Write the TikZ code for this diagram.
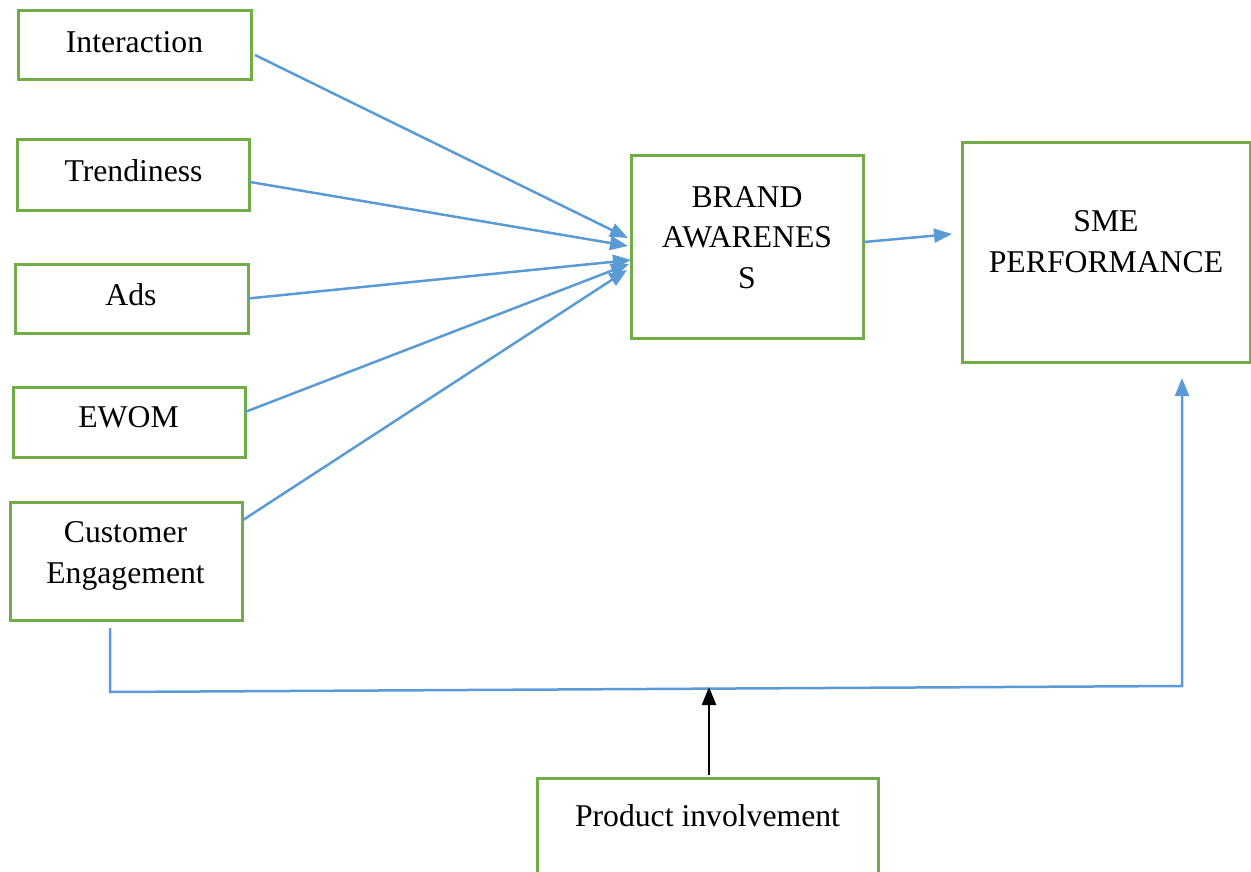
\documentclass[tikz,border=0pt]{standalone}
\usepackage{fontspec}
\setmainfont{Liberation Serif}
\usetikzlibrary{arrows.meta}
\definecolor{boxgreen}{HTML}{70AD47}
\definecolor{lineblue}{HTML}{5B9BD5}
\begin{document}
\begin{tikzpicture}[x=1pt,y=-1pt,
  box/.style={draw=boxgreen,line width=3pt,rectangle,inner sep=0pt,outer sep=0pt},
  lbl/.style={anchor=base,align=center,inner sep=0pt,font=\fontsize{31.7}{40.5}\selectfont},
  blueline/.style={draw=lineblue,line width=2.5pt},
  bluearrow/.style={blueline,-{Triangle[length=18pt,width=14pt]}},
  blackarrow/.style={draw=black,line width=2.5pt,-{Triangle[length=18pt,width=14pt]}}]
\useasboundingbox (0,0) rectangle (1251,872);
\clip (0,0) rectangle (1251,872);
% boxes
\node[box,minimum width=233pt,minimum height=69pt] (int) at (134.5,45.5) {};
\node[box,minimum width=232pt,minimum height=70pt] (trd) at (133,175) {};
\node[box,minimum width=233pt,minimum height=69pt] (ads) at (131.5,298.5) {};
\node[box,minimum width=232pt,minimum height=70pt] (ewom) at (129,422) {};
\node[box,minimum width=232pt,minimum height=118pt] (ce) at (126,561) {};
\node[box,minimum width=232pt,minimum height=182pt] (ba) at (747,247) {};
\node[box,minimum width=288pt,minimum height=219pt] (sme) at (1106,252.5) {};
\node[box,minimum width=341pt,minimum height=200pt] (pi) at (707.5,878) {};
% texts
\node[lbl] (tint) at (134.5,53) {Interaction};
\node[lbl] (ttrd) at (133.5,182) {Trendiness};
\node[lbl] (tads) at (131,305) {Ads};
\node[lbl] (tewom) at (128.5,427) {EWOM};
\node[lbl] (tce) at (125.5,583) {Customer\\Engagement};
\node[lbl] (tba) at (747,288) {BRAND\\AWARENES\\S};
\node[lbl] (tsme) at (1106,272) {SME\\PERFORMANCE};
\node[lbl] (tpi) at (707.5,826) {Product involvement};
% arrows into brand awareness
\draw[bluearrow] ([shift={(4,9.5)}]int.east) -- ([shift={(-3,-9)}]ba.west);
\draw[bluearrow] ([shift={(1,7)}]trd.east) -- ([shift={(-3,-1)}]ba.west);
\draw[bluearrow] ([shift={(0,0)}]ads.east) -- ([shift={(0,13)}]ba.west);
\draw[bluearrow] ([shift={(0,-10)}]ewom.east) -- ([shift={(-2,17)}]ba.west);
\draw[bluearrow] ([shift={(1,-41)}]ce.east) -- ([shift={(-4,23)}]ba.west);
\draw[bluearrow] ([shift={(1,-5)}]ba.east) -- ([shift={(-10,-18.5)}]sme.west);
% moderator path
\coordinate (c1) at (110,692);
\coordinate (c2) at (1182,686);
\coordinate (pj) at (709,687);
\draw[bluearrow] ([shift={(-16,8)}]ce.south) -- (c1) -- (c2) -- ([shift={(76,16)}]sme.south);
\draw[blackarrow] ([shift={(1.5,-3)}]pi.north) -- (pj);
\end{tikzpicture}
\end{document}
